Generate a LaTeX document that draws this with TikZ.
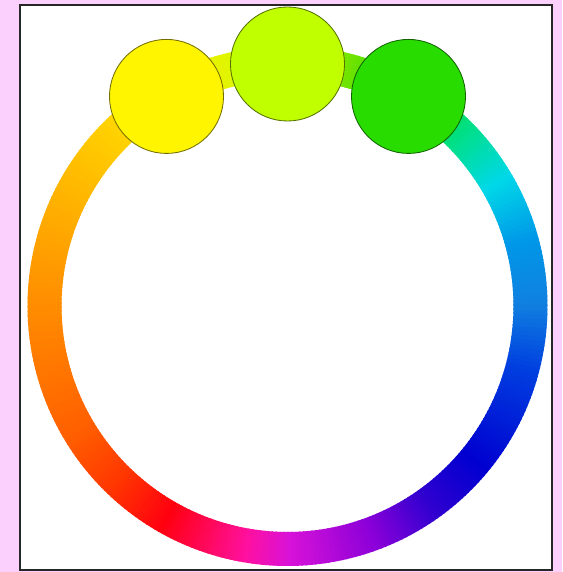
\documentclass[tikz,border=0pt]{standalone}
\usepackage{xcolor}
\definecolor{pagepink}{RGB}{252,208,252}
% stops of the colour ring (angle in degrees)
\definecolor{h000}{HTML}{1080E0}
\definecolor{h015}{HTML}{0098E8}
\definecolor{h030}{HTML}{00D8E8}
\definecolor{h045}{HTML}{00E080}
\definecolor{h060}{HTML}{20D800}
\definecolor{h075}{HTML}{70E400}
\definecolor{h090}{HTML}{C0FF00}
\definecolor{h105}{HTML}{E4F400}
\definecolor{h120}{HTML}{FFE800}
\definecolor{h145}{HTML}{FFC000}
\definecolor{h180}{HTML}{FF8C00}
\definecolor{h210}{HTML}{FF6000}
\definecolor{h225}{HTML}{FF3800}
\definecolor{h240}{HTML}{FF0010}
\definecolor{h260}{HTML}{FF10A0}
\definecolor{h270}{HTML}{D812D8}
\definecolor{h290}{HTML}{8A00D8}
\definecolor{h305}{HTML}{3000D0}
\definecolor{h320}{HTML}{0000D0}
\definecolor{h345}{HTML}{0040E0}
\definecolor{dotyellow}{HTML}{FFF500}
\definecolor{dotlime}{HTML}{C0FF00}
\definecolor{dotgreen}{HTML}{28DC00}

\tikzset{
  ringline/.style={line width=0.85cm},
  swatch/.style={circle, draw=#1!45!black, fill=#1, line width=0.6pt,
    minimum size=2.85cm, inner sep=0pt},
}

\begin{document}
\begin{tikzpicture}[x=0.025cm, y=0.025cm]
  \useasboundingbox (0,0) rectangle (562,572);
  \fill[pagepink] (0,0) rectangle (562,572);
  \draw[line width=1.3pt, draw=black!85, fill=white] (20,2) rectangle (552,567);

  \begin{scope}[shift={(287.5,266)}]
    % colour ring
    \foreach \sa/\ea/\ca/\cb in {0/15/h000/h015, 15/30/h015/h030, 30/45/h030/h045,
        45/60/h045/h060, 60/75/h060/h075, 75/90/h075/h090, 90/105/h090/h105,
        105/120/h105/h120, 120/145/h120/h145, 145/180/h145/h180, 180/210/h180/h210,
        210/225/h210/h225, 225/240/h225/h240, 240/260/h240/h260, 260/270/h260/h270,
        270/290/h270/h290, 290/305/h290/h305, 305/320/h305/h320, 320/345/h320/h345,
        345/360/h345/h000} {
      \pgfmathtruncatemacro\n{\ea-\sa-1}
      \foreach \i in {0,...,\n} {
        \pgfmathsetmacro\p{100*\i/(\ea-\sa)}
        \draw[ringline, color=\cb!\p!\ca] (\sa+\i:243) -- (\sa+\i+1.4:243);
      }
    }

    % swatches
    \node[swatch=dotyellow] (yellowdot) at (120:242) {};
    \node[swatch=dotlime]   (limedot)   at (90:242)  {};
    \node[swatch=dotgreen]  (greendot)  at (60:242)  {};
  \end{scope}
\end{tikzpicture}
\end{document}
